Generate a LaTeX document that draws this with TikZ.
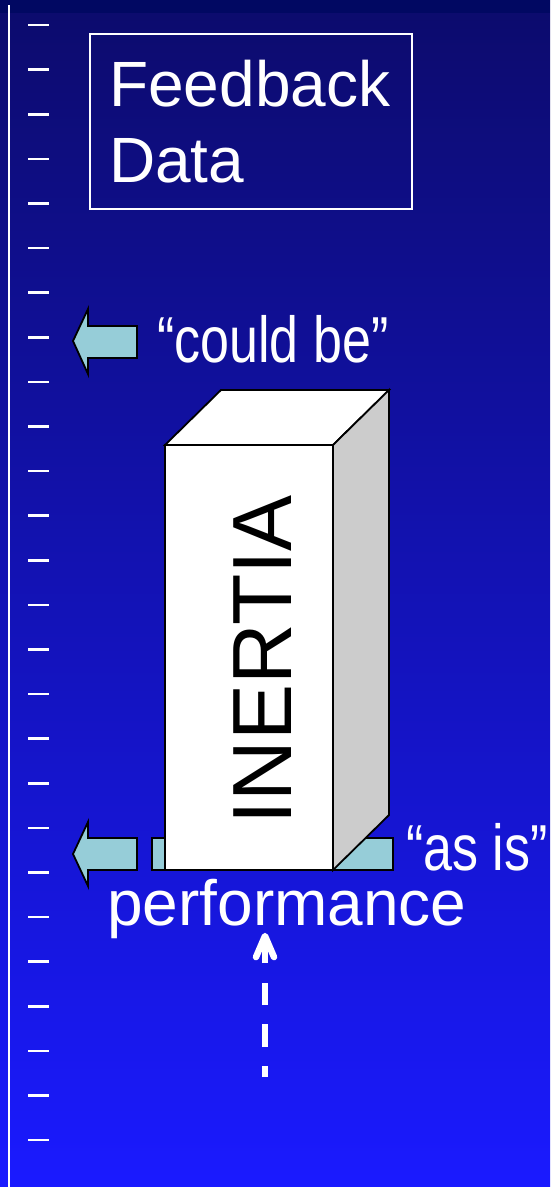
\documentclass[tikz,border=0pt]{standalone}
\usepackage{fontspec}
\setmainfont{Liberation Sans}
\usetikzlibrary{calc}
\definecolor{bgtop}{HTML}{0C0B6C}
\definecolor{bgbot}{HTML}{1A1AFF}
\definecolor{bgstrip}{HTML}{010862}
\definecolor{arrowfill}{HTML}{96CDD8}
\definecolor{sidegray}{HTML}{CCCCCC}
\tikzset{
  tick/.style={draw=white, line width=2.6pt},
  blockarrow/.style={fill=arrowfill, draw=black, line width=1.8pt, line join=miter},
  boxface/.style={draw=black, line width=1.8pt, line join=miter},
  bigtext/.style={text=white, inner sep=0pt, font=\fontsize{64}{64}\selectfont},
  qtext/.style={text=white, inner sep=0pt},
}
\newcommand{\condensed}[1]{\scalebox{0.8}[1]{\fontsize{65}{65}\selectfont #1}}
\begin{document}
\begin{tikzpicture}[x=1pt,y=-1pt]
\useasboundingbox (0,0) rectangle (550,1187);
\shade[top color=bgtop, bottom color=bgbot] (0,0) rectangle (550,1187);
\fill[bgstrip] (0,0) rectangle (550,13);
% scale
\draw[white, line width=2.4pt] (9,5) -- (9,1187);
\foreach \i in {0,...,25} {
  \draw[tick] (28,{25+\i*44.6}) -- (49,{25+\i*44.6});
}
% Feedback Data box
\node[draw=white, line width=1.5pt, minimum width=322pt, minimum height=175pt, anchor=north west, inner sep=0pt] (fb) at (89,33) {};
\node[bigtext, anchor=base west] (fbt1) at (109,106) {Feedback};
\node[bigtext, anchor=base west] (fbt2) at (109,182) {Data};
% could be arrow
\draw[blockarrow] (73,341) -- (88,309) -- (88,326) -- (137,326) -- (137,358) -- (88,358) -- (88,374) -- cycle;
\node[qtext, anchor=base west] (could) at (157,362) {\condensed{“could be”}};
% as is arrow
\draw[blockarrow] (73,854) -- (88,822) -- (88,838) -- (137,838) -- (137,870) -- (88,870) -- (88,886) -- cycle;
\draw[blockarrow] (152,838) rectangle (393,870);
% Inertia box
\draw[boxface, fill=white] (165,445) -- (221,390) -- (389,390) -- (333,445) -- cycle;
\draw[boxface, fill=sidegray] (333,445) -- (389,390) -- (389,815) -- (333,870) -- cycle;
\draw[boxface, fill=white] (165,445) rectangle (333,870);
\node[rotate=90, inner sep=0pt, text=black, font=\fontsize{84}{84}\selectfont] (inertia) at (263,660) {INERTIA};
\node[qtext, anchor=base west] (asis) at (406,870) {\condensed{“as is”}};
% performance
\node[bigtext, anchor=base west] (perf) at (107,925) {performance};
\coordinate (dbot) at (265,1077);
\coordinate (dtop) at (265,936);
\draw[white, line width=6.5pt, dash pattern=on 11pt off 19pt on 23pt off 19pt on 22pt off 20pt on 40pt] (dbot) -- (dtop);
\draw[white, line width=6.5pt, line cap=round, line join=round] ($(dtop)+(-9,21)$) -- (dtop) -- ($(dtop)+(9,21)$);
\end{tikzpicture}
\end{document}
